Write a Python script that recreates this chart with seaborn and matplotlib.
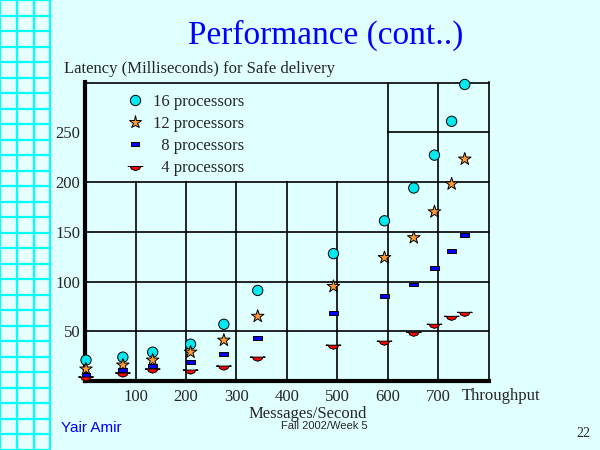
import numpy as np
import pandas as pd
import matplotlib
matplotlib.use("Agg")
import matplotlib.pyplot as plt
from matplotlib.path import Path
from matplotlib.patches import Polygon
import seaborn as sns

# values
throughput = [2, 75, 134, 209, 275, 342, 492, 593, 651, 692, 726, 752]
lat16 = [21, 24, 29, 37, 57, 91, 128, 161, 194, 227, 261, 298]
lat12 = [12, 16, 21, 29, 41, 65, 95, 124, 144, 170, 198, 223]
lat8 = [6, 11, 15, 19, 27, 43, 68, 85, 97, 114, 131, 147]
lat4 = [4, 8, 12, 11, 15, 24, 36, 40, 49, 57, 65, 69]
series = ["16 processors", "12 processors", "  8 processors", "  4 processors"]
xticks = [100, 200, 300, 400, 500, 600, 700]
yticks = [50, 100, 150, 200, 250]

bg = "#E0FFFF"
sns.set_style("white", {"axes.facecolor": bg, "figure.facecolor": bg})
plt.rcParams["font.family"] = ["Liberation Serif", "DejaVu Serif"]

df = pd.DataFrame({
    "throughput": throughput * 4,
    "latency": lat16 + lat12 + lat8 + lat4,
    "series": [s for s in series for _ in throughput],
})

# markers like the powerpoint ones
dash = Path([(-1, -0.45), (1, -0.45), (1, 0.45), (-1, 0.45), (-1, -0.45)], closed=True)
bowl = Path([(-1.5, 0), (1.5, 0), (1.1, 0), (0.8, -0.55), (0, -0.85), (-0.8, -0.55),
             (-1.1, 0), (-1.5, 0)], closed=True)
markers = dict(zip(series, ["o", "*", dash, bowl]))
palette = dict(zip(series, ["#00E8F0", "#FF9933", "#0000FF", "#FF0000"]))
sizes = dict(zip(series, [55, 90, 40, 110]))

fig = plt.figure(figsize=(6, 4.5), dpi=100)

# grid strip on the left of the slide
strip = fig.add_axes([0, 0, 51 / 600, 1])
strip.set_facecolor("#E8FFFF")
strip.set_xlim(0, 3)
strip.set_ylim(450 / 15.55, 0)
strip.set_xticks(np.arange(0, 4))
strip.set_yticks(np.arange(0, 30))
strip.tick_params(length=0, labelbottom=False, labelleft=False)
strip.grid(True, color="#00FFFF", lw=1.6)
for s in strip.spines.values():
    s.set_visible(False)
strip.axvline(3, color="#00FFFF", lw=3)

ax = fig.add_axes([85 / 600, 69 / 450, 404 / 600, 298.5 / 450])
sns.scatterplot(data=df, x="throughput", y="latency", hue="series", style="series",
                size="series", markers=markers, palette=palette, sizes=sizes,
                edgecolor="black", linewidth=0.7, ax=ax, zorder=3, clip_on=False)

ax.set_xlim(0, 800)
ax.set_ylim(0, 300)
ax.set_xticks(xticks)
ax.set_yticks(yticks)
ax.set_xticklabels([str(t) for t in xticks], fontsize=12)
ax.set_yticklabels([str(t) for t in yticks], fontsize=12)
ax.tick_params(axis="both", length=0)
ax.tick_params(axis="x", pad=6)
ax.tick_params(axis="y", pad=3.5)
ax.set_xlabel("")
ax.set_ylabel("")
ax.set_axisbelow(True)
ax.grid(True, color="black", lw=1.2)

# legend box hides the grid in the upper left corner
keep = Polygon([(0, 0), (800, 0), (800, 300), (598, 300), (598, 201), (0, 201)],
               transform=ax.transData, facecolor="none", edgecolor="none")
ax.add_patch(keep)
for g in ax.xaxis.get_gridlines() + ax.yaxis.get_gridlines():
    g.set_clip_path(keep)

for side in ["left", "bottom"]:
    ax.spines[side].set_linewidth(3)
for side in ["top", "right"]:
    ax.spines[side].set_linewidth(1.2)
for s in ax.spines.values():
    s.set_color("black")

handles, labels = ax.get_legend_handles_labels()
ax.legend(handles, labels, loc="upper left", bbox_to_anchor=(0.103, 0.962),
          frameon=False, fontsize=12, handlelength=1.0, handletextpad=0.6,
          labelspacing=0.36, borderpad=0, borderaxespad=0)

fig.text(326 / 600, 1 - 44 / 450, "Performance (cont..)", color="#0000FF",
         fontsize=24, ha="center", va="baseline")
fig.text(64 / 600, 1 - 73 / 450, "Latency (Milliseconds) for Safe delivery",
         fontsize=12, ha="left", va="baseline")
fig.text(462 / 600, 1 - 400 / 450, "Throughput", fontsize=12, ha="left", va="baseline")
fig.text(308 / 600, 1 - 418 / 450, "Messages/Second", fontsize=12, ha="center",
         va="baseline")
fig.text(324 / 600, 1 - 429 / 450, "Fall 2002/Week 5", fontsize=8, ha="center",
         va="baseline", family=["Liberation Sans", "DejaVu Sans"])
fig.text(61 / 600, 1 - 432 / 450, "Yair Amir", fontsize=11, color="#0000FF",
         ha="left", va="baseline", family=["Liberation Sans", "DejaVu Sans"])
fig.text(576 / 600, 1 - 437 / 450, "22", fontsize=10, ha="left", va="baseline")

fig.savefig("out.png", dpi=100, facecolor=bg)
